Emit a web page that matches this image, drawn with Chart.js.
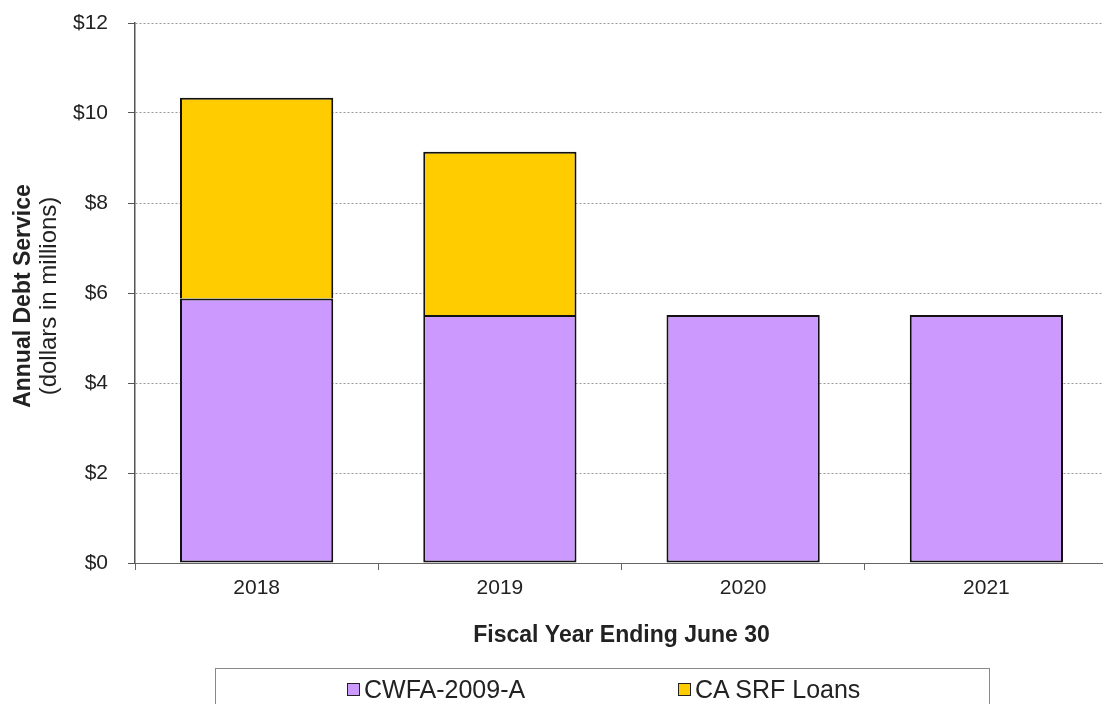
<!DOCTYPE html>
<html>
<head>
<meta charset="utf-8">
<script src="https://cdn.jsdelivr.net/npm/chart.js@4"></script>
<style>
  html, body { margin: 0; padding: 0; background: #fff; overflow: hidden; }
  #wrap { position: relative; width: 1103px; height: 704px; overflow: hidden; }
  #chart { position: absolute; left: 0; top: 0; }
  #legend {
    position: absolute; left: 215px; top: 668px; width: 775px; height: 60px;
    border: 1px solid #888; box-sizing: border-box;
    font-family: "Liberation Sans", Arial, sans-serif; font-size: 25px; color: #222;
  }
  .item { position: absolute; top: 5px; height: 30px; line-height: 30px; display: flex; align-items: center; }
  .sw { width: 11px; height: 11px; border: 1.5px solid #222; margin-right: 4px; }
</style>
</head>
<body>
<div id="wrap">
  <canvas id="chart" width="1108" height="704"></canvas>
  <div id="legend"></div>
</div>
<script>
const years = ['2018', '2019', '2020', '2021'];
const cwfa = [5.88, 5.51, 5.51, 5.51];
const srf = [4.46, 3.63, null, null];
const yTicks = [0, 2, 4, 6, 8, 10, 12];

const purple = '#CC99FF';
const yellow = '#FFCC00';
const font = '"Liberation Sans", Arial, sans-serif';

// rotated two-line y axis title
const yTitle = {
  id: 'yTitle',
  afterDraw(chart) {
    const ctx = chart.ctx;
    const mid = (chart.chartArea.top + chart.chartArea.bottom) / 2;
    ctx.save();
    ctx.fillStyle = '#222';
    ctx.textAlign = 'center';
    ctx.textBaseline = 'middle';
    ctx.translate(24, mid + 3);
    ctx.rotate(-Math.PI / 2);
    ctx.font = 'bold 23px ' + font;
    ctx.fillText('Annual Debt Service', 0, 0);
    ctx.font = '24px ' + font;
    ctx.fillText('(dollars in millions)', 0, 25);
    ctx.restore();
  }
};

new Chart(document.getElementById('chart'), {
  type: 'bar',
  data: {
    labels: years,
    datasets: [
      { label: 'CWFA-2009-A', data: cwfa, backgroundColor: purple, borderColor: '#111', borderWidth: 2, borderSkipped: false },
      { label: 'CA SRF Loans', data: srf, backgroundColor: yellow, borderColor: '#111', borderWidth: 2, borderSkipped: 'bottom' }
    ]
  },
  options: {
    responsive: false,
    animation: false,
    layout: { padding: { top: 23, bottom: 55, left: 0, right: 0 } },
    plugins: { legend: { display: false }, tooltip: { enabled: false } },
    datasets: { bar: { categoryPercentage: 1, barPercentage: 0.63 } },
    scales: {
      x: {
        stacked: true,
        afterFit: s => { s.height = 86; },
        grid: { offset: true, drawOnChartArea: false, color: '#666', tickLength: 7 },
        border: { color: '#666', width: 1 },
        ticks: { color: '#222', font: { family: font, size: 21 }, padding: 6 },
        title: { display: true, text: 'Fiscal Year Ending June 30', color: '#222', font: { family: font, size: 23, weight: 'bold' }, padding: 0 }
      },
      y: {
        stacked: true,
        min: 0, max: 12,
        afterFit: s => { s.width = 135; s.paddingTop = 10; s.paddingBottom = 10; },
        afterBuildTicks: s => { s.ticks = yTicks.map(v => ({ value: v })); },
        grid: { color: '#999', tickColor: '#555', tickLength: 7, tickBorderDash: [] },
        border: { color: '#555', width: 1.5, dash: [2, 2] },
        ticks: { color: '#222', font: { family: font, size: 21 }, padding: 20, callback: v => '$' + v }
      }
    }
  },
  plugins: [yTitle]
});

// legend
const legend = document.getElementById('legend');
[['CWFA-2009-A', purple, 131], ['CA SRF Loans', yellow, 462]].forEach(([name, color, left]) => {
  const d = document.createElement('div');
  d.className = 'item';
  d.style.left = left + 'px';
  d.innerHTML = `<span class="sw" style="background:${color}"></span>${name}`;
  legend.appendChild(d);
});
</script>
</body>
</html>
